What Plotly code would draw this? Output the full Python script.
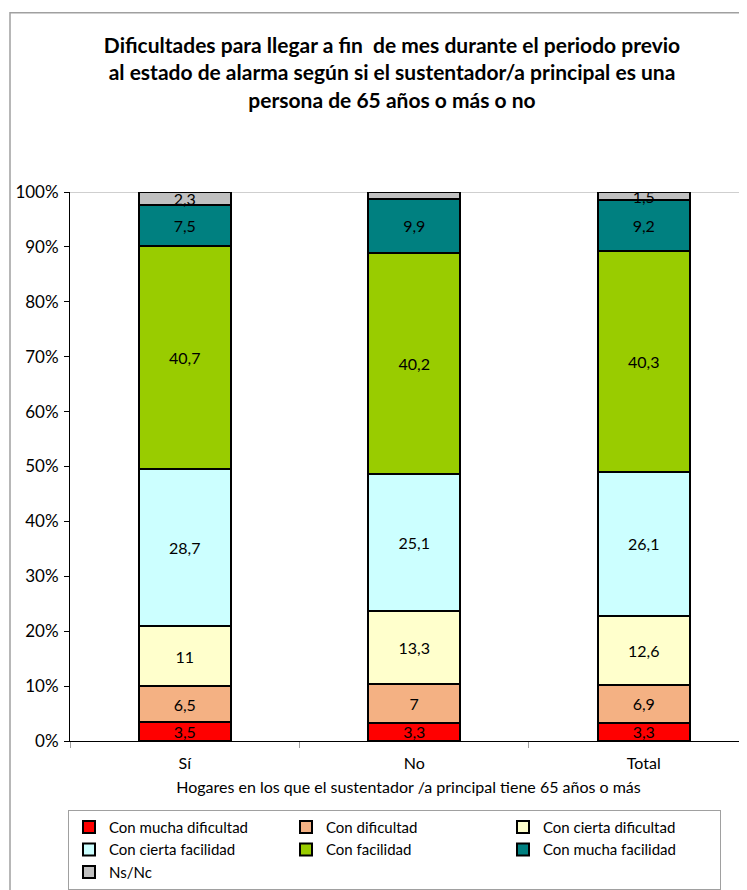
import plotly.graph_objects as go

CATEGORIAS = ["Sí", "No", "Total"]

SERIES = [
    "Con mucha dificultad",
    "Con dificultad",
    "Con cierta dificultad",
    "Con cierta facilidad",
    "Con facilidad",
    "Con mucha facilidad",
    "Ns/Nc",
]

COLORES = ["#FF0000", "#F4B183", "#FFFFCC", "#CCFFFF", "#99CC00", "#008080", "#C0C0C0"]

MUCHA_DIFICULTAD = [3.5, 3.3, 3.3]
DIFICULTAD = [6.5, 7, 6.9]
CIERTA_DIFICULTAD = [11, 13.3, 12.6]
CIERTA_FACILIDAD = [28.7, 25.1, 26.1]
FACILIDAD = [40.7, 40.2, 40.3]
MUCHA_FACILIDAD = [7.5, 9.9, 9.2]
NS_NC = [2.3, 1.2, 1.5]

VALORES = [MUCHA_DIFICULTAD, DIFICULTAD, CIERTA_DIFICULTAD, CIERTA_FACILIDAD,
           FACILIDAD, MUCHA_FACILIDAD, NS_NC]

Y_TICKS = list(range(0, 101, 10))

FONT = "Lato, Calibri, sans-serif"

# 100% apilado: se normaliza cada columna
totales = [sum(v[i] for v in VALORES) for i in range(len(CATEGORIAS))]


def fmt(v):
    s = f"{v:g}"
    return s.replace(".", ",")


fig = go.Figure()
for nombre, color, vals in zip(SERIES, COLORES, VALORES):
    fig.add_trace(go.Bar(
        name=nombre,
        x=CATEGORIAS,
        y=[v / t * 100 for v, t in zip(vals, totales)],
        text=[fmt(v) for v in vals],
        textposition="inside",
        insidetextanchor="middle",
        constraintext="none",
        textangle=0,
        textfont=dict(family=FONT, size=16, color="black"),
        marker=dict(color=color, line=dict(color="black", width=2)),
        width=0.4,
        cliponaxis=False,
        hoverinfo="skip",
    ))

# la página añade 8 px de margen al cuerpo
W, H = 739, 882
L, R, T, B = 62, 0, 184, 147
pw, ph = W - L - R, H - T - B

fig.update_layout(
    width=W,
    height=H,
    barmode="stack",
    margin=dict(l=L, r=R, t=T, b=B),
    paper_bgcolor="white",
    plot_bgcolor="white",
    font=dict(family=FONT, size=16, color="black"),
    title=dict(
        text="Dificultades para llegar a fin  de mes durante el periodo previo<br>"
             "al estado de alarma según si el sustentador/a principal es una<br>"
             "persona de 65 años o más o no",
        x=384 / W,
        xanchor="center",
        y=1 - 45 / H,
        yanchor="top",
        font=dict(family=FONT, size=21, color="black", weight="bold"),
    ),
    xaxis=dict(
        range=[-0.5, 2.45],
        automargin=False,
        showline=True,
        linecolor="black",
        linewidth=1,
        ticks="outside",
        tickson="boundaries",
        tickcolor="#A0A0A0",
        ticklen=6,
        showgrid=False,
        tickfont=dict(size=16),
        ticklabelstandoff=8,
        title=dict(
            text="Hogares en los que el sustentador /a principal tiene 65 años o más",
            font=dict(size=16),
            standoff=10,
        ),
    ),
    yaxis=dict(
        range=[0, 100],
        automargin=False,
        tickvals=Y_TICKS,
        ticktext=[f"{v}%" for v in Y_TICKS],
        showline=True,
        linecolor="black",
        linewidth=1,
        ticks="outside",
        tickcolor="black",
        ticklen=5,
        showgrid=False,
        zeroline=False,
        tickfont=dict(size=17),
        ticklabelstandoff=2,
    ),
    legend=dict(
        orientation="h",
        x=-2 / pw,
        xanchor="left",
        y=(H - B - 804) / ph,
        yanchor="top",
        entrywidth=172,
        entrywidthmode="pixels",
        bordercolor="#A0A0A0",
        borderwidth=1,
        font=dict(size=15),
        itemwidth=30,
        tracegroupgap=0,
        traceorder="normal",
    ),
    showlegend=True,
)

# línea superior del área de trazado
fig.add_shape(type="line", xref="paper", yref="y", x0=0, x1=1, y0=100, y1=100,
              line=dict(color="#A0A0A0", width=1), layer="below")

# borde del área del gráfico
fig.add_shape(type="rect", xref="paper", yref="paper",
              x0=(2 - L) / pw, x1=(W + 20 - L) / pw,
              y0=(H - B - (H + 20)) / ph, y1=(H - B - 4) / ph,
              line=dict(color="#A0A0A0", width=1.5), fillcolor="rgba(0,0,0,0)",
              layer="below")

fig.write_html("out.html")
